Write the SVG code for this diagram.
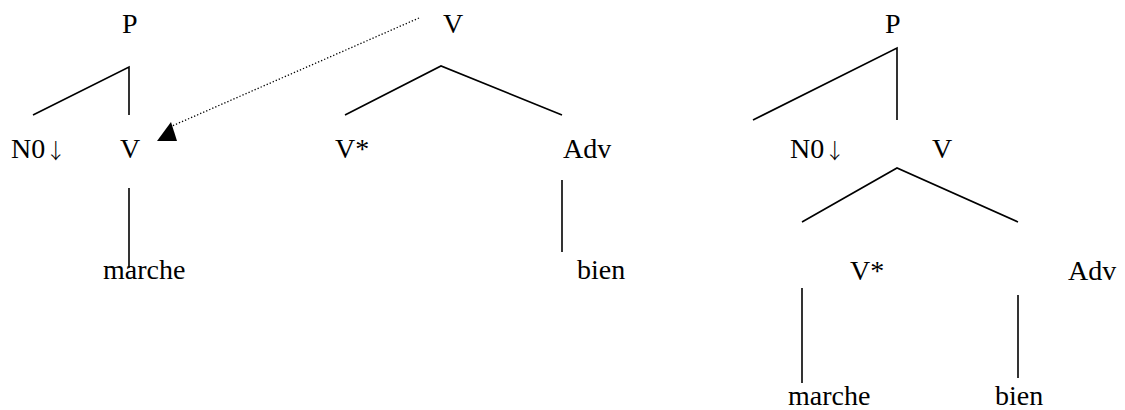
<svg xmlns="http://www.w3.org/2000/svg" width="1125" height="410" viewBox="0 0 1125 410">
<style>
text{font-family:"Liberation Serif","Times New Roman",serif;font-size:28px;fill:#000}
.ar{font-family:"Noto Sans CJK JP","DejaVu Sans",sans-serif;font-size:21px;font-weight:300}
.e{fill:none;stroke:#000;stroke-width:1.6}
.d{fill:none;stroke:#000;stroke-width:1.3;stroke-dasharray:1.3 2}
</style>
<rect width="1125" height="410" fill="#fff"/>
<g id="t1-P"><text x="122" y="33">P</text></g>
<g id="t1-N0"><text x="11" y="158">N0<tspan class="ar">↓</tspan></text></g>
<g id="t1-V"><text x="120" y="158">V</text></g>
<g id="t1-marche"><text x="103" y="279">marche</text></g>
<g id="t2-V"><text x="443" y="33">V</text></g>
<g id="t2-Vstar"><text x="335" y="158">V*</text></g>
<g id="t2-Adv"><text x="563" y="158">Adv</text></g>
<g id="t2-bien"><text x="577" y="279">bien</text></g>
<g id="t3-P"><text x="885" y="33">P</text></g>
<g id="t3-N0"><text x="790" y="158">N0<tspan class="ar">↓</tspan></text></g>
<g id="t3-V"><text x="932" y="158">V</text></g>
<g id="t3-Vstar"><text x="850" y="280">V*</text></g>
<g id="t3-Adv"><text x="1068" y="280">Adv</text></g>
<g id="t3-marche"><text x="788" y="405">marche</text></g>
<g id="t3-bien"><text x="995" y="405">bien</text></g>
<g id="connectors">
<polyline class="e" points="33,115 129,67 129,115"/>
<line class="e" x1="129" y1="188" x2="129" y2="268"/>
<polyline class="e" points="345,115 441,66 562,115"/>
<line class="e" x1="562" y1="180" x2="562" y2="252"/>
<polyline class="e" points="753,120 897,48 897,120"/>
<polyline class="e" points="802,222 897,168 1018,222"/>
<line class="e" x1="802" y1="288" x2="802" y2="383"/>
<line class="e" x1="1018" y1="295" x2="1018" y2="378"/>
<line class="d" x1="419" y1="18" x2="172" y2="126"/>
<polygon points="157,141 177,141 171,122" fill="#000"/>
</g>
</svg>
